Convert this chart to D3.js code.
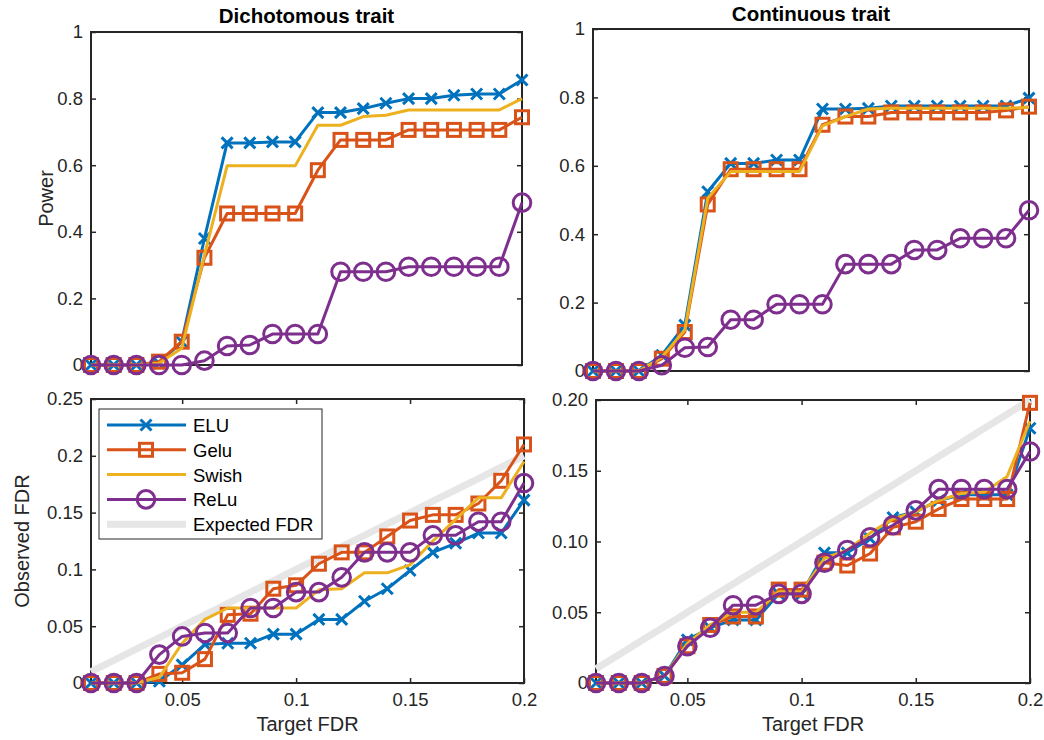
<!DOCTYPE html>
<html><head><meta charset="utf-8">
<script src="https://cdn.jsdelivr.net/npm/d3@7"></script>
<style>body{margin:0;background:#fff}svg{display:block}text{font-family:"Liberation Sans",Arial,sans-serif}</style>
</head><body><svg id="c" width="1044" height="740"></svg>
<script>
const targetFDR = [0.01,0.02,0.03,0.04,0.05,0.06,0.07,0.08,0.09,0.10,0.11,0.12,0.13,0.14,0.15,0.16,0.17,0.18,0.19,0.20];
const expectedFDR = [0.01,0.02,0.03,0.04,0.05,0.06,0.07,0.08,0.09,0.10,0.11,0.12,0.13,0.14,0.15,0.16,0.17,0.18,0.19,0.20];
const seriesNames = ["ELU","Gelu","Swish","ReLu","Expected FDR"];

const powDichELU   = [0,0,0,0.005,0.07,0.38,0.667,0.667,0.67,0.67,0.758,0.758,0.77,0.786,0.80,0.80,0.81,0.814,0.814,0.856];
const powDichGelu  = [0,0,0,0.01,0.07,0.322,0.455,0.455,0.455,0.455,0.585,0.676,0.676,0.676,0.706,0.706,0.706,0.706,0.706,0.744];
const powDichSwish = [0,0,0,0.005,0.05,0.33,0.598,0.598,0.598,0.598,0.72,0.72,0.746,0.75,0.766,0.766,0.766,0.766,0.766,0.80];
const powDichReLu  = [0,0,0,0,0,0.013,0.057,0.06,0.093,0.093,0.093,0.28,0.28,0.28,0.295,0.295,0.295,0.295,0.295,0.4875];

const powContELU   = [0,0,0,0.046,0.134,0.524,0.607,0.607,0.617,0.617,0.766,0.766,0.768,0.775,0.775,0.775,0.775,0.775,0.775,0.798];
const powContGelu  = [0,0,0,0.036,0.114,0.487,0.59,0.59,0.59,0.59,0.72,0.744,0.744,0.756,0.756,0.756,0.756,0.756,0.762,0.773];
const powContSwish = [0,0,0,0.04,0.12,0.505,0.583,0.583,0.583,0.583,0.717,0.744,0.766,0.768,0.768,0.768,0.768,0.768,0.768,0.771];
const powContReLu  = [0,0,0,0.017,0.068,0.07,0.15,0.15,0.195,0.195,0.195,0.3125,0.3125,0.3125,0.354,0.354,0.388,0.388,0.388,0.47];

const fdrDichELU   = [0,0,0,0.0015,0.016,0.034,0.035,0.035,0.043,0.043,0.056,0.056,0.072,0.083,0.099,0.115,0.123,0.132,0.132,0.161];
const fdrDichGelu  = [0,0,0,0.008,0.009,0.021,0.060,0.061,0.083,0.086,0.105,0.115,0.115,0.129,0.143,0.148,0.148,0.158,0.178,0.21];
const fdrDichSwish = [0,0,0,0.005,0.035,0.056,0.066,0.066,0.066,0.066,0.082,0.083,0.097,0.097,0.104,0.125,0.144,0.163,0.163,0.195];
const fdrDichReLu  = [0,0,0,0.025,0.041,0.044,0.044,0.066,0.066,0.080,0.080,0.093,0.115,0.115,0.115,0.13,0.13,0.142,0.142,0.176];

const fdrContELU   = [0,0,0,0.005,0.0305,0.039,0.0446,0.0446,0.063,0.063,0.092,0.092,0.102,0.117,0.121,0.129,0.133,0.133,0.133,0.18];
const fdrContGelu  = [0,0,0,0.005,0.026,0.041,0.047,0.047,0.066,0.066,0.085,0.083,0.0915,0.11,0.114,0.123,0.13,0.13,0.13,0.198];
const fdrContSwish = [0,0,0,0.005,0.028,0.041,0.05,0.05,0.0645,0.0645,0.088,0.094,0.106,0.116,0.121,0.129,0.134,0.135,0.146,0.185];
const fdrContReLu  = [0,0,0,0.005,0.026,0.039,0.055,0.055,0.063,0.063,0.085,0.094,0.103,0.1115,0.122,0.137,0.137,0.137,0.137,0.1636];

const xTicks = [0.05,0.10,0.15,0.20];
const xTickLabels = ["0.05","0.1","0.15","0.2"];
const powTicks = [0,0.2,0.4,0.6,0.8,1];
const powTickLabels = ["0","0.2","0.4","0.6","0.8","1"];
const fdrDichTicks = [0,0.05,0.10,0.15,0.20,0.25];
const fdrDichTickLabels = ["0","0.05","0.1","0.15","0.2","0.25"];
const fdrContTicks = [0,0.05,0.10,0.15,0.20];
const fdrContTickLabels = ["0","0.05","0.10","0.15","0.20"];

const colors = {ELU:"#0072BD",Gelu:"#D95319",Swish:"#EDB120",ReLu:"#7E2F8E",Expected:"#E6E6E6"};
const axisColor = "#262626";
const svg = d3.select("#c");

function marker(g, type, cx, cy, color){
  if(type==="x"){
    const s=5.5;
    g.append("path").attr("d",`M${cx-s},${cy-s}L${cx+s},${cy+s}M${cx-s},${cy+s}L${cx+s},${cy-s}`)
      .attr("stroke",color).attr("stroke-width",3).attr("fill","none");
  } else if(type==="s"){
    const s=6.5;
    g.append("rect").attr("x",cx-s).attr("y",cy-s).attr("width",2*s).attr("height",2*s)
      .attr("stroke",color).attr("stroke-width",3).attr("fill","none");
  } else if(type==="o"){
    g.append("circle").attr("cx",cx).attr("cy",cy).attr("r",8.8)
      .attr("stroke",color).attr("stroke-width",3).attr("fill","none");
  }
}

function panel(cfg){
  const {L,T,R,B} = cfg;
  const x = d3.scaleLinear().domain([0.01,0.2]).range([L,R]);
  const y = d3.scaleLinear().domain(cfg.yDomain).range([B,T]);
  const g = svg.append("g");
  const tl = 5;
  const axL = d3.axisLeft(y).tickValues(cfg.yTicks).tickFormat((d,i)=>cfg.yLabels[i]).tickSizeInner(-tl).tickSizeOuter(0).tickPadding(8);
  const gL = g.append("g").attr("transform",`translate(${L},0)`).call(axL);
  const axR = d3.axisRight(y).tickValues(cfg.yTicks).tickFormat("").tickSizeInner(-tl).tickSizeOuter(0);
  const gR = g.append("g").attr("transform",`translate(${R},0)`).call(axR);
  const axes=[gL,gR];
  if(cfg.xAxis){
    const axB = d3.axisBottom(x).tickValues(xTicks).tickFormat((d,i)=>xTickLabels[i]).tickSizeInner(-tl).tickSizeOuter(0).tickPadding(10);
    const gB = g.append("g").attr("transform",`translate(0,${B})`).call(axB);
    const axT = d3.axisTop(x).tickValues(xTicks).tickFormat("").tickSizeInner(-tl).tickSizeOuter(0);
    const gT = g.append("g").attr("transform",`translate(0,${T})`).call(axT);
    axes.push(gB,gT);
  }
  axes.forEach(a=>{
    a.select(".domain").remove();
    a.selectAll("line").attr("stroke",axisColor).attr("stroke-width",1.5);
    a.selectAll("text").attr("fill",axisColor).style("font-size","18.5px").style("font-family","'Liberation Sans',Arial,sans-serif");
  });
  g.append("rect").attr("x",L).attr("y",T).attr("width",R-L).attr("height",B-T)
    .attr("fill","none").attr("stroke",axisColor).attr("stroke-width",2);

  const line = d3.line().x((d,i)=>x(targetFDR[i])).y(d=>y(d));
  if(cfg.expected){
    g.append("path").datum(expectedFDR).attr("d",line).attr("stroke",colors.Expected).attr("stroke-width",7).attr("fill","none");
  }
  const ser = [
    {v:cfg.elu,c:colors.ELU,m:"x"},
    {v:cfg.gelu,c:colors.Gelu,m:"s"},
    {v:cfg.swish,c:colors.Swish,m:null},
    {v:cfg.relu,c:colors.ReLu,m:"o"}
  ];
  ser.forEach(s=>{
    g.append("path").datum(s.v).attr("d",line).attr("stroke",s.c).attr("stroke-width",3).attr("fill","none").attr("stroke-linejoin","round");
    if(s.m){ s.v.forEach((d,i)=>marker(g,s.m,x(targetFDR[i]),y(d),s.c)); }
  });
  if(cfg.title){
    g.append("text").attr("x",(L+R)/2).attr("y",cfg.titleY).attr("text-anchor","middle")
      .style("font-size","20.5px").style("font-weight","bold").attr("fill","#000").text(cfg.title);
  }
  if(cfg.yLabel){
    g.append("text").attr("transform",`translate(${cfg.yLabelX},${(T+B)/2}) rotate(-90)`).attr("text-anchor","middle")
      .style("font-size","20px").attr("fill",axisColor).text(cfg.yLabel);
  }
  if(cfg.xLabel){
    g.append("text").attr("x",(L+R)/2).attr("y",731).attr("text-anchor","middle")
      .style("font-size","20px").attr("fill",axisColor).text(cfg.xLabel);
  }
  return g;
}

panel({L:91,T:32,R:522,B:365,yDomain:[0,1],yTicks:powTicks,yLabels:powTickLabels,xAxis:false,
  elu:powDichELU,gelu:powDichGelu,swish:powDichSwish,relu:powDichReLu,title:"Dichotomous trait",titleY:23,yLabel:"Power",yLabelX:53});
panel({L:593,T:29,R:1029,B:371,yDomain:[0,1],yTicks:powTicks,yLabels:powTickLabels,xAxis:false,
  elu:powContELU,gelu:powContGelu,swish:powContSwish,relu:powContReLu,title:"Continuous trait",titleY:21});
panel({L:91,T:399,R:524,B:683,yDomain:[0,0.25],yTicks:fdrDichTicks,yLabels:fdrDichTickLabels,xAxis:true,expected:true,
  elu:fdrDichELU,gelu:fdrDichGelu,swish:fdrDichSwish,relu:fdrDichReLu,yLabel:"Observed FDR",yLabelX:29,xLabel:"Target FDR"});
panel({L:596,T:400,R:1030,B:683,yDomain:[0,0.2],yTicks:fdrContTicks,yLabels:fdrContTickLabels,xAxis:true,expected:true,
  elu:fdrContELU,gelu:fdrContGelu,swish:fdrContSwish,relu:fdrContReLu,xLabel:"Target FDR"});

const lg = svg.append("g");
lg.append("rect").attr("x",99).attr("y",409).attr("width",223).attr("height",130)
  .attr("fill","#fff").attr("stroke","#262626").attr("stroke-width",1);
const legItems = [
  {name:seriesNames[0],c:colors.ELU,m:"x",w:3},
  {name:seriesNames[1],c:colors.Gelu,m:"s",w:3},
  {name:seriesNames[2],c:colors.Swish,m:null,w:3},
  {name:seriesNames[3],c:colors.ReLu,m:"o",w:3},
  {name:seriesNames[4],c:colors.Expected,m:null,w:7}
];
legItems.forEach((it,i)=>{
  const yy = 425 + i*24.8;
  lg.append("line").attr("x1",107).attr("x2",186).attr("y1",yy).attr("y2",yy).attr("stroke",it.c).attr("stroke-width",it.w);
  if(it.m) marker(lg,it.m,146,yy,it.c);
  lg.append("text").attr("x",193).attr("y",yy+7).style("font-size","18.5px").attr("fill","#000").text(it.name);
});
</script></body></html>
